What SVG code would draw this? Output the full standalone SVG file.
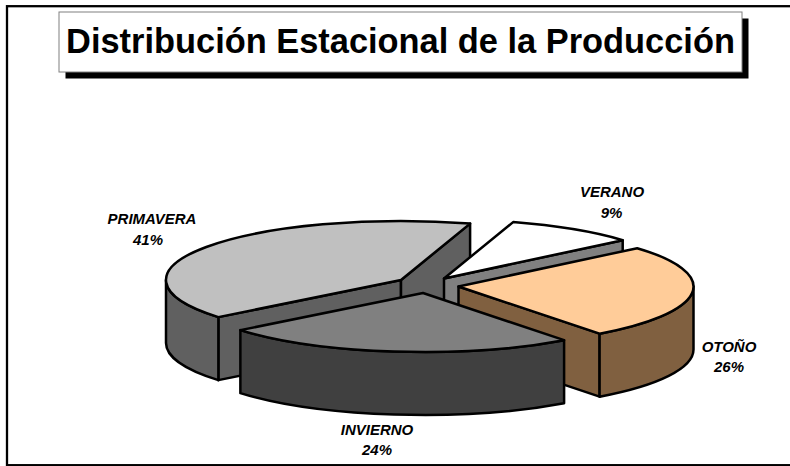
<svg xmlns="http://www.w3.org/2000/svg" width="790" height="466" viewBox="0 0 790 466">
<style>
.s{stroke:#000;stroke-width:2.5;stroke-linejoin:round}
.lbl{font-family:"Liberation Sans",Arial,sans-serif;font-size:15px;font-weight:bold;font-style:italic;fill:#000;text-anchor:middle}
.title{font-family:"Liberation Sans",Arial,sans-serif;font-size:34.4px;font-weight:bold;fill:#000;text-anchor:middle}
</style>
<rect x="0" y="0" width="790" height="466" fill="#fff"/>
<rect x="7" y="6.2" width="800" height="459" fill="none" stroke="#000" stroke-width="2.3"/>
<g id="title">
<rect x="65.5" y="18.5" width="683" height="60" fill="#000"/>
<rect x="59" y="12" width="683" height="60" fill="#fff" stroke="#808080" stroke-width="1"/>
<text class="title" x="400.5" y="52.7">Distribución Estacional de la Producción</text>
</g>
<g id="primavera">
<path class="s" fill="#606060" d="M401,280 L218.37,317.13 L218.37,380.13 L401,343 Z"/>
<path class="s" fill="#606060" d="M401,280 L470.1,223.61 L470.1,286.61 L401,343 Z"/>
<path class="s" fill="#606060" d="M218.37,317.13 A235 59 0 0 1 166,280 L166,343 A235 59 0 0 0 218.37,380.13 Z"/>
<path class="s" fill="#C0C0C0" d="M401,280 L218.37,317.13 A235 59 0 0 1 470.1,223.61 Z"/>
</g>
<g id="verano">
<path class="s" fill="#808080" d="M444,278.5 L622.7,240.18 L622.7,303.18 L444,341.5 Z"/>
<path class="s" fill="#FFFFFF" d="M444,278.5 L513.1,222.11 A235 59 0 0 1 622.7,240.18 Z"/>
</g>
<g id="otono">
<path class="s" fill="#806040" d="M458.5,286.5 L599.6,333.68 L599.6,396.68 L458.5,349.5 Z"/>
<path class="s" fill="#806040" d="M693.5,286.5 A235 59 0 0 1 599.6,333.68 L599.6,396.68 A235 59 0 0 0 693.5,349.5 Z"/>
<path class="s" fill="#FFCC99" d="M458.5,286.5 L637.2,248.18 A235 59 0 0 1 599.6,333.68 Z"/>
</g>
<g id="invierno">
<path class="s" fill="#404040" d="M564.1,340.18 A235 59 0 0 1 240.37,330.13 L240.37,393.13 A235 59 0 0 0 564.1,403.18 Z"/>
<path class="s" fill="#808080" d="M423,293 L564.1,340.18 A235 59 0 0 1 240.37,330.13 Z"/>
</g>
<g id="labels">
<text class="lbl" x="152" y="223.5">PRIMAVERA</text>
<text class="lbl" x="148" y="245">41%</text>
<text class="lbl" x="612" y="196.5">VERANO</text>
<text class="lbl" x="611.5" y="218">9%</text>
<text class="lbl" x="729" y="352">OTOÑO</text>
<text class="lbl" x="729" y="372">26%</text>
<text class="lbl" x="377" y="435">INVIERNO</text>
<text class="lbl" x="377" y="455">24%</text>
</g>
<g id="connectors"></g>
</svg>
